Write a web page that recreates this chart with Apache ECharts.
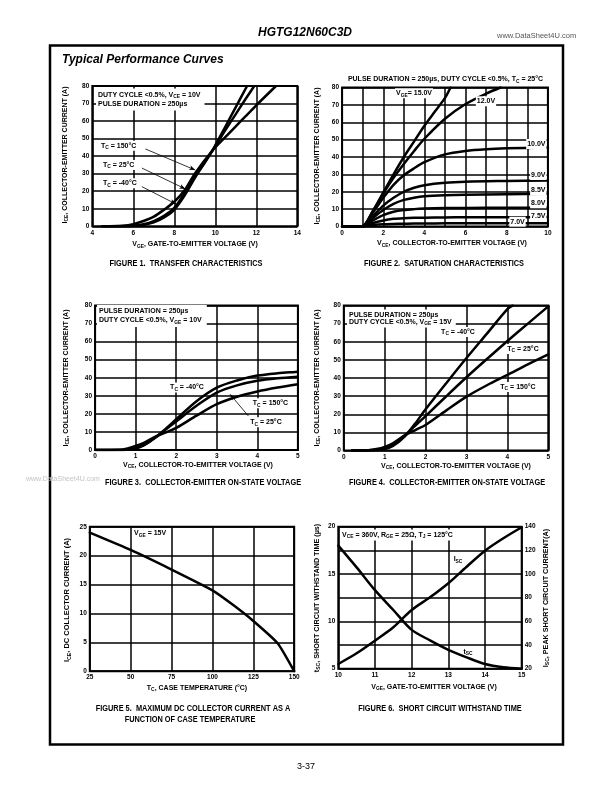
<!DOCTYPE html>
<html><head><meta charset="utf-8">
<script src="https://cdn.jsdelivr.net/npm/echarts@6/dist/echarts.min.js"></script>
<style>html,body{margin:0;padding:0;background:#fff}#c{width:612px;height:792px}</style>
</head><body><div id="c"></div>
<script>
// ---------- DATA ----------
// Figure 1: transfer characteristics (VGE V, ICE A)
const f1_v150 = [4.5, 5.5, 6, 6.5, 7, 7.5, 8, 8.5, 9, 9.85, 10.5, 11, 12, 12.96];
const f1_i150 = [0, 0.3, 1.2, 3, 5.5, 9.5, 14, 20.5, 30, 43, 51, 57, 69, 80];
const f1_v25 = [4.5, 6, 6.5, 7, 7.5, 8, 8.5, 9, 9.5, 9.85, 10.5, 11, 11.5, 11.9];
const f1_i25 = [0, 0.3, 1.2, 3, 6, 10.5, 19, 29, 37, 43, 55, 64, 73, 80];
const f1_vm40 = [4.5, 6, 6.5, 7, 7.5, 8, 8.5, 9, 9.5, 9.85, 10.5, 11, 11.55];
const f1_im40 = [0, 0.2, 0.8, 2.2, 5, 9.5, 17.5, 27.5, 36.5, 43, 57, 68, 80];
// Figure 2: saturation characteristics (VCE V, ICE A)
const f2_v15 = [0, 0.95, 1.5, 2, 2.5, 3, 3.5, 4, 4.5, 5, 5.27];
const f2_i15 = [0, 0, 9, 19.5, 30, 40, 49, 58, 66, 74, 80];
const f2_v12 = [0, 0.95, 1.5, 2, 2.5, 3, 3.5, 4, 5, 6, 7, 7.7];
const f2_i12 = [0, 0, 9, 19, 28, 36, 43.5, 50.5, 62, 70.5, 76.5, 80];
const f2_v10 = [0, 0.95, 1.5, 2, 2.5, 3, 3.5, 4, 5, 6, 7, 8, 10];
const f2_i10 = [0, 0, 8, 16.5, 24, 29.5, 33.5, 37, 41.5, 43.5, 44.5, 45, 45.5];
const f2_vlow = [0, 0.95, 1.5, 2, 2.5, 3, 3.5, 4, 5, 6, 8, 10];
const f2_i9 = [0, 0, 6, 12, 16.5, 20, 22.3, 23.8, 25.2, 25.8, 26.2, 26.5];
const f2_i85 = [0, 0, 5, 9.5, 13, 15.3, 16.6, 17.4, 18, 18.3, 18.6, 18.8];
const f2_i8 = [0, 0, 3.5, 6.5, 8.5, 9.5, 10, 10.3, 10.6, 10.7, 10.8, 10.9];
const f2_i75 = [0, 0, 2, 3.5, 4.4, 4.8, 5, 5.1, 5.2, 5.3, 5.3, 5.4];
const f2_i7 = [0, 0, 0.8, 1.3, 1.5, 1.6, 1.7, 1.7, 1.8, 1.8, 1.8, 1.8];
const f2_labels = ['10.0V', '9.0V', '8.5V', '8.0V', '7.5V', '7.0V'];
// Figure 3: on-state voltage, VGE = 10V
const f3_v = [0, 0.6, 0.8, 1, 1.2, 1.5, 1.75, 2, 2.5, 3, 3.5, 4, 4.5, 5];
const f3_im40 = [0, 0, 0.2, 0.8, 2.5, 7, 12, 17, 27, 34.5, 38.5, 41.2, 42.5, 43.3];
const f3_i25 = [0, 0, 0.3, 1, 2.8, 7.3, 11.5, 15.8, 24.5, 31.8, 35.8, 38.3, 39.7, 40.6];
const f3_i150 = [0, 0.1, 0.8, 2.2, 4, 7.5, 9.8, 12.2, 19, 25.4, 29.5, 32.4, 34.6, 36.4];
// Figure 4: on-state voltage, VGE = 15V
const f4_vm40 = [0.2, 0.6, 0.8, 1, 1.2, 1.5, 1.75, 2, 2.5, 3, 3.5, 4, 4.13];
const f4_im40 = [0, 0.1, 0.3, 0.8, 2.5, 8, 15, 22.7, 37, 51, 64.5, 78, 80];
const f4_v = [0.2, 0.6, 0.8, 1, 1.2, 1.5, 1.75, 2, 2.5, 3, 3.5, 4, 4.5, 5];
const f4_i25 = [0, 0.1, 0.4, 1, 3, 8.5, 13.8, 19, 29.8, 40.4, 50.5, 60.4, 70, 79.5];
const f4_i150 = [0, 0.2, 0.8, 2, 4, 8.5, 11.3, 14.1, 22, 29.7, 36, 41.7, 47.5, 53];
// Figure 5: max DC collector current vs case temperature
const f5_t = [25, 50, 75, 100, 112.5, 125, 140, 150];
const f5_i = [24, 21, 17.6, 14, 11.5, 8.7, 4.8, 0];
// Figure 6: short circuit withstand time
const f6_v = [10, 10.5, 11, 11.5, 12, 12.5, 13, 13.5, 14, 14.5, 15];
const f6_tsc = [18, 15.7, 13.3, 11.2, 9.1, 8.0, 7.0, 6.2, 5.5, 5.15, 5.0];
const f6_isc = [24, 33, 43.7, 55, 69.6, 80.3, 92.2, 106.2, 119.7, 130.2, 139.5];
// annotation arrows (data coordinates: from label to curve)
const f1_arrows = [[[6.59, 44.1], [9.02, 32.1]], [[6.42, 33.2], [8.54, 21.3]], [[6.42, 22.6], [8.08, 12.7]]];
const f3_arrows = [[[3.78, 18.8], [3.33, 30.8]]];

// ---------- HELPERS ----------
const F = "'Liberation Sans', Arial, Helvetica, sans-serif";
const zip = (xs, ys) => xs.map((x, i) => [x, ys[i]]);

const gridBoxes = [
  {left: 92.3, top: 86, width: 205, height: 140.3},
  {left: 342.1, top: 87.5, width: 205.8, height: 139},
  {left: 95.1, top: 305.5, width: 202.8, height: 144.5},
  {left: 343.8, top: 305.5, width: 204.5, height: 145},
  {left: 89.8, top: 526.8, width: 204.4, height: 144.4},
  {left: 338.3, top: 526.7, width: 183.4, height: 142}
];
const grid = gridBoxes.map(g => Object.assign({show: true, borderColor: '#000', borderWidth: 2,
  backgroundColor: 'transparent', containLabel: false, outerBoundsMode: 'none'}, g));

const lbl = {fontSize: 6.5, fontWeight: 'bold', color: '#000', fontFamily: F, margin: 3};
function ax(gi, min, max, interval, o = {}) {
  return {type: 'value', gridIndex: gi, min, max, interval,
    position: o.position, axisLine: {show: false}, axisTick: {show: false},
    splitLine: {show: o.split !== false, lineStyle: {color: '#000', width: 1.5}},
    axisLabel: Object.assign({}, lbl, o.fmt ? {formatter: o.fmt} : {})};
}
const xAxis = [
  ax(0, 4, 14, 2), ax(1, 0, 10, 1, {fmt: v => (v % 2 === 0 ? String(v) : '')}),
  ax(2, 0, 5, 1), ax(3, 0, 5, 1), ax(4, 25, 150, 25), ax(5, 10, 15, 1)
];
const yAxis = [
  ax(0, 0, 80, 10), ax(1, 0, 80, 10), ax(2, 0, 80, 10), ax(3, 0, 80, 10),
  ax(4, 0, 25, 5), ax(5, 5, 20, 5, {split: false, position: 'left'}),
  ax(5, 20, 140, 20, {position: 'right'})
];

function line(i, yi, data, extra) {
  return Object.assign({type: 'line', xAxisIndex: i, yAxisIndex: yi, data, showSymbol: false,
    symbol: 'none', smooth: 0.3, silent: true, animation: false, z: 3,
    lineStyle: {color: '#000', width: 2.5, join: 'round', cap: 'round'}}, extra || {});
}
function arrows(list) {
  return {markLine: {silent: true, animation: false, symbol: ['none', 'arrow'], symbolSize: [3.5, 6],
    lineStyle: {color: '#000', width: 0.8, type: 'solid'}, label: {show: false},
    emphasis: {disabled: true},
    data: list.map(a => [{coord: a[0]}, {coord: a[1]}])}};
}

const series = [
  line(0, 0, zip(f1_v150, f1_i150), arrows(f1_arrows)),
  line(0, 0, zip(f1_v25, f1_i25)),
  line(0, 0, zip(f1_vm40, f1_im40)),
  line(1, 1, zip(f2_v15, f2_i15)),
  line(1, 1, zip(f2_v12, f2_i12)),
  line(1, 1, zip(f2_v10, f2_i10)),
  line(1, 1, zip(f2_vlow, f2_i9)),
  line(1, 1, zip(f2_vlow, f2_i85)),
  line(1, 1, zip(f2_vlow, f2_i8)),
  line(1, 1, zip(f2_vlow, f2_i75)),
  line(1, 1, zip(f2_vlow, f2_i7)),
  line(2, 2, zip(f3_v, f3_im40)),
  line(2, 2, zip(f3_v, f3_i25), arrows(f3_arrows)),
  line(2, 2, zip(f3_v, f3_i150)),
  line(3, 3, zip(f4_vm40, f4_im40)),
  line(3, 3, zip(f4_v, f4_i25)),
  line(3, 3, zip(f4_v, f4_i150)),
  line(4, 4, zip(f5_t, f5_i), {smooth: 0.15}),
  line(5, 5, zip(f6_v, f6_tsc)),
  line(5, 6, zip(f6_v, f6_isc))
];

// ---------- TEXT ----------
function txt(x, y, text, o = {}) {
  const size = o.size || 7;
  const weight = o.weight || 'bold';
  const fam = o.family || F;
  const st = {text, fontSize: size, fontWeight: weight, fontFamily: fam, fontStyle: o.italic ? 'italic' : 'normal',
    fill: o.color || '#000', align: o.align || 'left', verticalAlign: 'middle',
    lineHeight: o.lh || Math.round(size * 1.3),
    rich: {s: {fontSize: size * 0.7, fontWeight: weight, fontFamily: fam, verticalAlign: 'bottom',
      lineHeight: size * 0.75, fill: o.color || '#000'}}};
  if (o.bg) { st.backgroundColor = '#fff'; st.padding = o.pad || [0.5, 1]; }
  const el = {type: 'text', x, y, rotation: o.rot || 0, z: 100, silent: true, style: st};
  if (o.sx) { el.scaleX = o.sx; }
  return el;
}
const R90 = Math.PI / 2;
const CAP = {align: 'center', size: 9, sx: 0.82};
const graphic = [
  {type: 'rect', shape: {x: 50, y: 45.5, width: 513, height: 699}, z: 90, silent: true,
    style: {fill: 'none', stroke: '#000', lineWidth: 2.5}},
  txt(305, 33, 'HGTG12N60C3D', {size: 12, italic: true, align: 'center'}),
  txt(497, 36, 'www.DataSheet4U.com', {size: 7.5, weight: 'normal', color: '#555'}),
  txt(62, 60, 'Typical Performance Curves', {size: 12, italic: true}),
  txt(306, 767, '3-37', {size: 9, weight: 'normal', align: 'center'}),
  txt(26, 479, 'www.DataSheet4U.com', {size: 7, weight: 'normal', color: '#c4c4c4'}),

  // Figure 1
  txt(96, 99.5, 'DUTY CYCLE <0.5%, V{s|CE} = 10V\nPULSE DURATION = 250µs', {bg: true, pad: [2, 4, 2, 2], lh: 9}),
  txt(100, 145.7, 'T{s|C} = 150°C', {bg: true}),
  txt(102, 165, 'T{s|C} = 25°C', {bg: true}),
  txt(102, 183.3, 'T{s|C} = -40°C', {bg: true}),
  txt(65, 155, 'I{s|CE}, COLLECTOR-EMITTER CURRENT (A)', {rot: R90, align: 'center', size: 7}),
  txt(195, 244.5, 'V{s|GE}, GATE-TO-EMITTER VOLTAGE (V)', {align: 'center', size: 7}),
  txt(186, 264, 'FIGURE 1.  TRANSFER CHARACTERISTICS', CAP),

  // Figure 2
  txt(445.5, 79.5, 'PULSE DURATION = 250µs, DUTY CYCLE <0.5%, T{s|C} = 25°C', {align: 'center'}),
  txt(414, 93.3, 'V{s|GE}= 15.0V', {align: 'center', bg: true}),
  txt(486, 101.3, '12.0V', {align: 'center', bg: true}),
  txt(546.5, 144, f2_labels[0], {align: 'right', bg: true}),
  txt(546.5, 175, f2_labels[1], {align: 'right', bg: true}),
  txt(546.5, 190.5, f2_labels[2], {align: 'right', bg: true}),
  txt(546.5, 203.3, f2_labels[3], {align: 'right', bg: true}),
  txt(546.5, 216.5, f2_labels[4], {align: 'right', bg: true}),
  txt(517.5, 221.7, f2_labels[5], {align: 'center', bg: true}),
  txt(316.7, 156, 'I{s|CE}, COLLECTOR-EMITTER CURRENT (A)', {rot: R90, align: 'center', size: 7}),
  txt(452, 243.5, 'V{s|CE}, COLLECTOR-TO-EMITTER VOLTAGE (V)', {align: 'center', size: 7}),
  txt(444, 264, 'FIGURE 2.  SATURATION CHARACTERISTICS', CAP),

  // Figure 3
  txt(97, 316, 'PULSE DURATION = 250µs\nDUTY CYCLE <0.5%, V{s|GE} = 10V', {bg: true, pad: [2, 5, 2, 2], lh: 9}),
  txt(187, 387.5, 'T{s|C} = -40°C', {align: 'center', bg: true}),
  txt(270.5, 403.3, 'T{s|C} = 150°C', {align: 'center', bg: true}),
  txt(266, 422.3, 'T{s|C} = 25°C', {align: 'center', bg: true}),
  txt(66, 378, 'I{s|CE}, COLLECTOR-EMITTER CURRENT (A)', {rot: R90, align: 'center', size: 7}),
  txt(198, 465, 'V{s|CE}, COLLECTOR-TO-EMITTER VOLTAGE (V)', {align: 'center', size: 7}),
  txt(203, 483, 'FIGURE 3.  COLLECTOR-EMITTER ON-STATE VOLTAGE', CAP),

  // Figure 4
  txt(347, 318.5, 'PULSE DURATION = 250µs\nDUTY CYCLE <0.5%, V{s|GE} = 15V', {bg: true, pad: [1.5, 4, 1.5, 2], lh: 7.5}),
  txt(458, 332, 'T{s|C} = -40°C', {align: 'center', bg: true}),
  txt(523, 349, 'T{s|C} = 25°C', {align: 'center', bg: true}),
  txt(518, 387, 'T{s|C} = 150°C', {align: 'center', bg: true}),
  txt(316.7, 378, 'I{s|CE}, COLLECTOR-EMITTER CURRENT (A)', {rot: R90, align: 'center', size: 7}),
  txt(456, 466, 'V{s|CE}, COLLECTOR-TO-EMITTER VOLTAGE (V)', {align: 'center', size: 7}),
  txt(447, 483, 'FIGURE 4.  COLLECTOR-EMITTER ON-STATE VOLTAGE', CAP),

  // Figure 5
  txt(133, 533.3, 'V{s|GE} = 15V', {bg: true}),
  txt(66.7, 600, 'I{s|CE}, DC COLLECTOR CURRENT (A)', {rot: R90, align: 'center', size: 7.5}),
  txt(197, 688, 'T{s|C}, CASE TEMPERATURE (°C)', {align: 'center', size: 7}),
  txt(193, 709, 'FIGURE 5.  MAXIMUM DC COLLECTOR CURRENT AS A', CAP),
  txt(190, 719.5, 'FUNCTION OF CASE TEMPERATURE', CAP),

  // Figure 6
  txt(341, 535, 'V{s|CE} = 360V, R{s|GE} = 25Ω, T{s|J} = 125°C', {bg: true, pad: [1, 3, 1, 1]}),
  txt(458, 559.3, 'I{s|SC}', {align: 'center'}),
  txt(468, 651.7, 't{s|SC}', {align: 'center'}),
  txt(316.7, 598, 't{s|SC}, SHORT CIRCUIT WITHSTAND TIME (µs)', {rot: R90, align: 'center', size: 7.2}),
  txt(545.7, 598, 'I{s|SC}, PEAK SHORT CIRCUIT CURRENT(A)', {rot: R90, align: 'center', size: 7.2}),
  txt(434, 687, 'V{s|GE}, GATE-TO-EMITTER VOLTAGE (V)', {align: 'center', size: 7}),
  txt(440, 709, 'FIGURE 6.  SHORT CIRCUIT WITHSTAND TIME', CAP)
];

const chart = echarts.init(document.getElementById('c'), null, {renderer: 'canvas', width: 612, height: 792});
chart.setOption({animation: false, backgroundColor: '#fff', grid, xAxis, yAxis, series, graphic});
</script>
</body></html>
